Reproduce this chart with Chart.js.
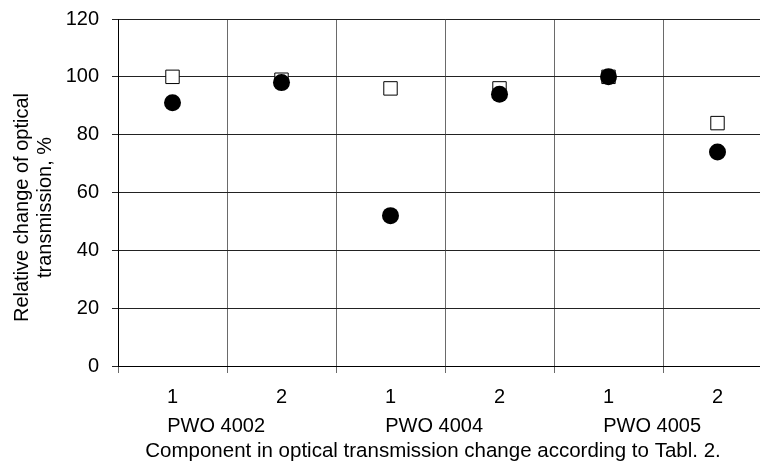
<!DOCTYPE html>
<html>
<head>
<meta charset="utf-8">
<script src="https://cdn.jsdelivr.net/npm/chart.js@4"></script>
<style>
html,body{margin:0;padding:0;overflow:hidden;background:#fff;width:760px;height:468px;}
#clip{width:760px;height:468px;overflow:hidden;position:relative;}
#wrap{width:772px;height:468px;position:absolute;left:0;top:0;}
canvas{display:block;}
</style>
</head>
<body>
<div id="clip"><div id="wrap"><canvas id="c" width="772" height="468" style="width:772px;height:468px;"></canvas></div></div>
<script>
const categories = ["1","2","1","2","1","2"];
const groups = ["PWO 4002","PWO 4004","PWO 4005"];
const circleValues = [91, 98, 52, 94, 100, 74];
const squareValues = [100, 99, 96, 96, 100, 84];
const yTitle = ["Relative change of optical", "transmission, %"];
const xTitle = "Component in optical transmission change according to Tabl. 2.";

const FONT = "'Liberation Sans', Arial, sans-serif";
const FS = 20;
Chart.defaults.font.family = FONT;
Chart.defaults.color = '#000';

const titlePlugin = {
  id: 'titles',
  afterDraw(chart) {
    const ctx = chart.ctx;
    const ca = chart.chartArea;
    ctx.save();
    ctx.fillStyle = '#000';
    ctx.textAlign = 'center';
    ctx.textBaseline = 'alphabetic';
    ctx.font = '20.5px ' + FONT;
    const xs = chart.scales.x2;
    ctx.fillText(xTitle, (ca.left + ca.right) / 2 - 12, xs.bottom - 11);
    ctx.font = FS + 'px ' + FONT;
    const cy = (ca.top + ca.bottom) / 2 + 15;
    ctx.translate(0, cy);
    ctx.rotate(-Math.PI / 2);
    ctx.fillText(yTitle[0], 0, 28);
    ctx.fillText(yTitle[1], 0, 51);
    ctx.restore();
  }
};

new Chart(document.getElementById('c'), {
  type: 'line',
  data: {
    labels: categories,
    datasets: [
      {
        label: 'circles',
        data: circleValues,
        showLine: false,
        pointStyle: 'circle',
        pointRadius: 8.5,
        pointHoverRadius: 8.5,
        pointBackgroundColor: '#000',
        pointBorderColor: '#000',
        pointBorderWidth: 0,
        order: 0
      },
      {
        label: 'squares',
        data: squareValues,
        showLine: false,
        pointStyle: 'rect',
        pointRadius: 9.5,
        pointHoverRadius: 9.5,
        pointBackgroundColor: '#fff',
        pointBorderColor: '#000',
        pointBorderWidth: 1,
        order: 1
      }
    ]
  },
  plugins: [titlePlugin],
  options: {
    responsive: false,
    animation: false,
    devicePixelRatio: 1,
    layout: { autoPadding: false, padding: { left: 0, top: 19, right: 0, bottom: 0 } },
    plugins: { legend: { display: false }, tooltip: { enabled: false } },
    scales: {
      x: {
        type: 'category',
        position: 'bottom',
        offset: true,
        grid: { offset: true, color: '#6a6a6a', lineWidth: 1, tickLength: 7, drawTicks: true },
        border: { color: '#000', width: 1 },
        ticks: { font: { size: FS }, padding: 12, color: '#000', maxRotation: 0, autoSkip: false },
        afterFit(scale) { scale.height = 44; scale.paddingLeft = 0; scale.paddingRight = 0; }
      },
      x2: {
        type: 'linear',
        position: 'bottom',
        min: -0.5, max: categories.length - 0.5,
        grid: { display: false, drawTicks: false },
        border: { display: false },
        ticks: {
          font: { size: FS }, padding: 4, color: '#000', maxRotation: 0, autoSkip: false,
          callback: (v, i) => groups[i]
        },
        afterBuildTicks(scale) {
          const per = categories.length / groups.length;
          scale.ticks = groups.map((g, i) => ({ value: i * per + (per - 1) / 2 - 0.1 }));
        },
        afterFit(scale) { scale.height = 58; scale.paddingLeft = 0; scale.paddingRight = 0; }
      },
      y: {
        min: 0, max: 120,
        ticks: { stepSize: 20, font: { size: FS }, padding: 13, color: '#000' },
        grid: { color: '#222', lineWidth: 1, tickLength: 6 },
        border: { color: '#000', width: 1 },
        afterFit(scale) { scale.width = 118; scale.paddingTop = 0; scale.paddingBottom = 0; }
      }
    }
  }
});
</script>
</body>
</html>
